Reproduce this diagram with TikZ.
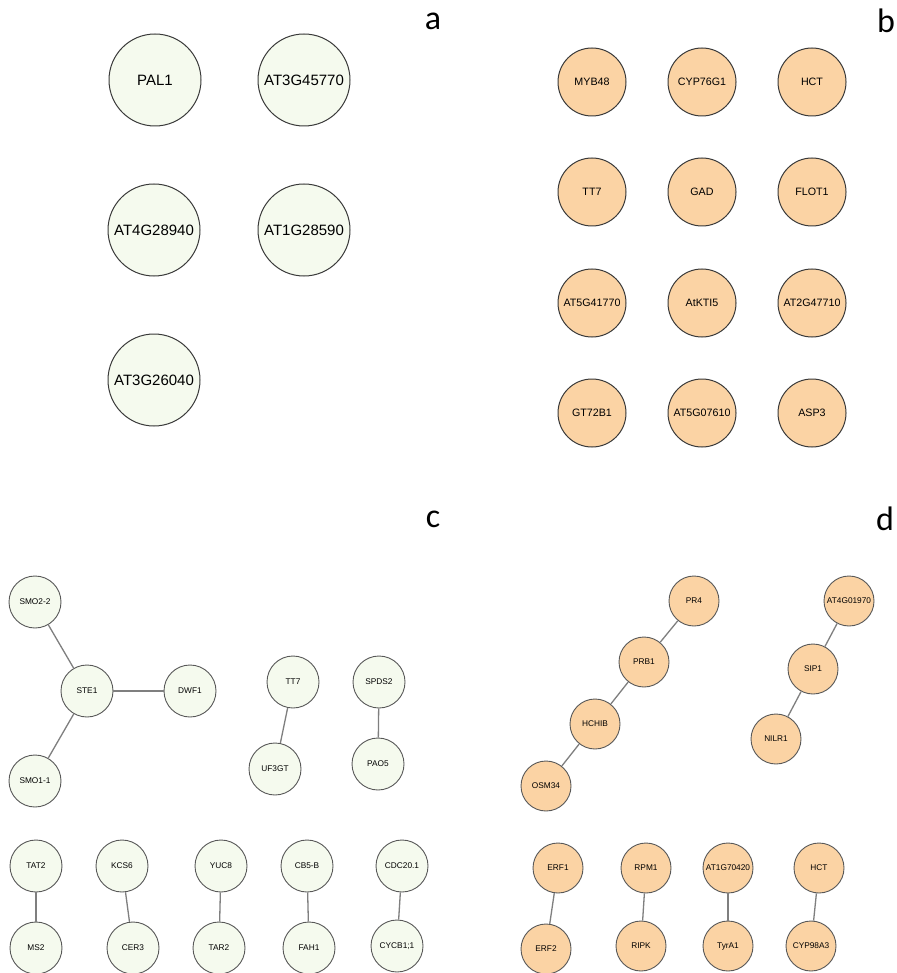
\documentclass[tikz,border=0pt]{standalone}
\usepackage{fontspec}
\setmainfont{Liberation Sans}
\newfontfamily\labfont{Carlito}
\definecolor{gfill}{HTML}{F5FAEE}
\definecolor{ofill}{HTML}{FBD3A4}
\definecolor{edgecol}{HTML}{7F7F7F}
\definecolor{bord}{HTML}{3A3A3A}
\begin{document}
\begin{tikzpicture}[x=1pt,y=-1pt,
  ga/.style={circle,draw=bord,line width=1pt,fill=gfill,minimum size=92pt,inner sep=0pt,font=\fontsize{15}{17}\selectfont},
  ob/.style={circle,draw=bord,line width=1pt,fill=ofill,minimum size=68pt,inner sep=0pt,font=\fontsize{10.7}{12}\selectfont},
  gc/.style={circle,draw=bord!85,line width=0.9pt,fill=gfill,minimum size=52pt,inner sep=0pt,font=\fontsize{8.3}{10}\selectfont},
  od/.style={circle,draw=bord!85,line width=0.9pt,fill=ofill,minimum size=50pt,inner sep=0pt,font=\fontsize{8.3}{10}\selectfont},
  lnk/.style={draw=edgecol,line width=1.3pt},
  panel/.style={font=\labfont\fontsize{34}{36}\selectfont,inner sep=0pt}]
\useasboundingbox[fill=white] (0,0) rectangle (896,973);
% panel labels
\node[panel] (la) at (433,21) {a};
\node[panel] (lb) at (886,21) {b};
\node[panel] (lc) at (433,519) {c};
\node[panel] (ld) at (885,519) {d};
% panel a
\node[ga] (pal1) at (155,80) {PAL1};
\node[ga] (at3g45770) at (304,80) {AT3G45770};
\node[ga] (at4g28940) at (154,230) {AT4G28940};
\node[ga] (at1g28590) at (304,230) {AT1G28590};
\node[ga] (at3g26040) at (154,380) {AT3G26040};
% panel b
\node[ob] (myb48) at (592,82) {MYB48};
\node[ob] (cyp76g1) at (702,82) {CYP76G1};
\node[ob] (hctb) at (812,82) {HCT};
\node[ob] (tt7b) at (592,192) {TT7};
\node[ob] (gad) at (702,192) {GAD};
\node[ob] (flot1) at (812,192) {FLOT1};
\node[ob] (at5g41770) at (592,303) {AT5G41770};
\node[ob] (atkti5) at (702,303) {AtKTI5};
\node[ob] (at2g47710) at (812,303) {AT2G47710};
\node[ob] (gt72b1) at (592,413) {GT72B1};
\node[ob] (at5g07610) at (702,413) {AT5G07610};
\node[ob] (asp3) at (812,413) {ASP3};
% panel c
\node[gc] (smo22) at (35,602) {SMO2-2};
\node[gc] (ste1) at (87,691) {STE1};
\node[gc] (dwf1) at (190,691) {DWF1};
\node[gc] (smo11) at (35,781) {SMO1-1};
\node[gc] (tt7c) at (293,682) {TT7};
\node[gc] (uf3gt) at (275,769) {UF3GT};
\node[gc] (spds2) at (379,682) {SPDS2};
\node[gc] (pao5) at (378,764) {PAO5};
\node[gc] (tat2) at (36,866) {TAT2};
\node[gc] (ms2) at (36,948) {MS2};
\node[gc] (kcs6) at (122,866) {KCS6};
\node[gc] (cer3) at (133,948) {CER3};
\node[gc] (yuc8) at (221,866) {YUC8};
\node[gc] (tar2) at (219,948) {TAR2};
\node[gc] (cb5b) at (307,866) {CB5-B};
\node[gc] (fah1) at (309,948) {FAH1};
\node[gc] (cdc201) at (402,866) {CDC20.1};
\node[gc] (cycb11) at (397,946) {CYCB1;1};
\draw[lnk] (smo22) -- (ste1);
\draw[lnk] (ste1) -- (dwf1);
\draw[lnk] (ste1) -- (smo11);
\draw[lnk] (tt7c) -- (uf3gt);
\draw[lnk] (spds2) -- (pao5);
\draw[lnk] (tat2) -- (ms2);
\draw[lnk] (kcs6) -- (cer3);
\draw[lnk] (yuc8) -- (tar2);
\draw[lnk] (cb5b) -- (fah1);
\draw[lnk] (cdc201) -- (cycb11);
% panel d
\node[od] (pr4) at (694,601) {PR4};
\node[od] (prb1) at (644,662) {PRB1};
\node[od] (hchib) at (595,724) {HCHIB};
\node[od] (osm34) at (546,786) {OSM34};
\node[od] (at4g01970) at (849,601) {AT4G01970};
\node[od] (sip1) at (813,669) {SIP1};
\node[od] (nilr1) at (776,739) {NILR1};
\node[od] (erf1) at (558,868) {ERF1};
\node[od] (erf2) at (546,949) {ERF2};
\node[od] (rpm1) at (646,868) {RPM1};
\node[od] (ripk) at (641,946) {RIPK};
\node[od] (at1g70420) at (728,868) {AT1G70420};
\node[od] (tyra1) at (728,946) {TyrA1};
\node[od] (hctd) at (819,868) {HCT};
\node[od] (cyp98a3) at (811,946) {CYP98A3};
\draw[lnk] (pr4) -- (prb1);
\draw[lnk] (prb1) -- (hchib);
\draw[lnk] (hchib) -- (osm34);
\draw[lnk] (at4g01970) -- (sip1);
\draw[lnk] (sip1) -- (nilr1);
\draw[lnk] (erf1) -- (erf2);
\draw[lnk] (rpm1) -- (ripk);
\draw[lnk] (at1g70420) -- (tyra1);
\draw[lnk] (hctd) -- (cyp98a3);
\end{tikzpicture}
\end{document}
